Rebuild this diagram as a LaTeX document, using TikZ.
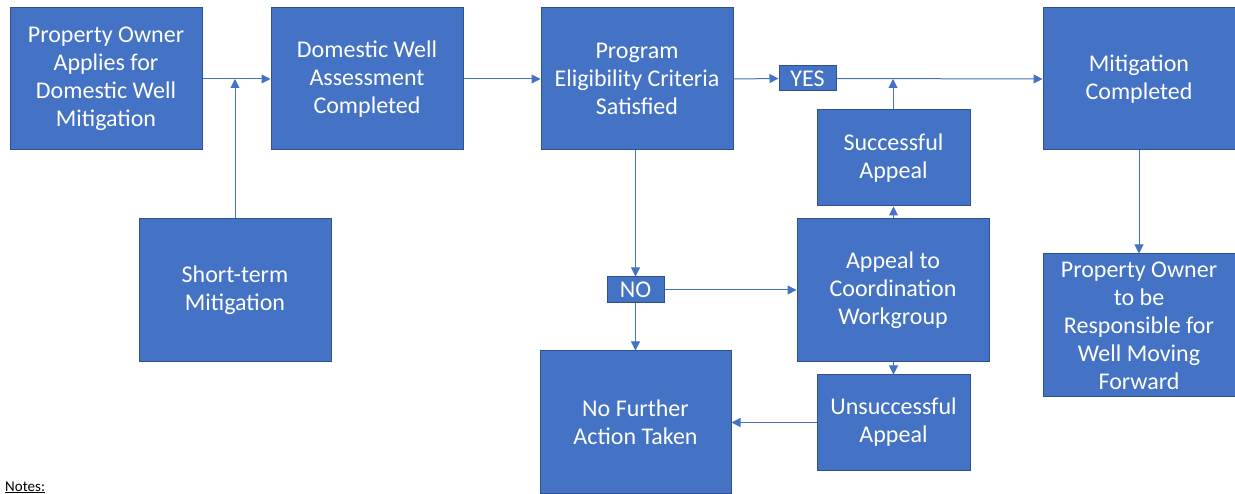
\documentclass[tikz,border=0pt]{standalone}
\usepackage{fontspec}
\setmainfont{Carlito}
\usetikzlibrary{arrows.meta}
\definecolor{boxfill}{HTML}{4472C4}
\definecolor{boxline}{HTML}{2F528F}
\definecolor{conn}{HTML}{4472C4}
\begin{document}
\begin{tikzpicture}[x=1pt,y=-1pt,
  bigbox/.style={draw=boxline,line width=1pt,fill=boxfill,text=white,align=center,
    inner sep=0pt,minimum width=192pt,minimum height=142pt,
    font=\fontsize{24}{28}\selectfont},
  midbox/.style={bigbox,minimum width=153pt,minimum height=96pt},
  tag/.style={draw=boxline,line width=1pt,fill=boxfill,text=white,inner sep=0pt,
    minimum width=57pt,minimum height=25pt,font=\fontsize{24}{24}\selectfont},
  link/.style={draw=conn,line width=1pt,-{Triangle[length=9pt,width=9pt]}},
  plain/.style={draw=conn,line width=1pt}]
\useasboundingbox (0,0) rectangle (1235,494);
\node[bigbox] (A) at (106,79) {Property Owner\\Applies for\\Domestic Well\\Mitigation};
\node[bigbox] (B) at (367,79) {Domestic Well\\Assessment\\Completed};
\node[bigbox] (C) at (637,79) {Program\\Eligibility Criteria\\Satisfied};
\node[bigbox] (D) at (1139,79) {Mitigation\\Completed};
\node[bigbox,minimum height=143pt] (E) at (235,290.5) {Short-term\\Mitigation};
\node[tag] (YES) at (807.5,78.5) {YES};
\node[midbox] (SA) at (893.5,158) {Successful\\Appeal};
\node[bigbox,minimum height=143pt] (AP) at (893,290.5) {Appeal to\\Coordination\\Workgroup};
\node[tag,minimum height=26pt] (NO) at (635.5,290) {NO};
\node[bigbox,minimum width=191pt] (NF) at (635.5,422) {No Further\\Action Taken};
\node[midbox,minimum height=95pt] (UA) at (893.5,422.5) {Unsuccessful\\Appeal};
\node[bigbox,minimum height=143pt] (PO) at (1139,325.5) {Property Owner\\to be\\Responsible for\\Well Moving\\Forward};
\node[anchor=base west,inner sep=0pt,font=\fontsize{15}{17}\selectfont] (notes) at (5,491) {\underline{Notes:}};
\coordinate (j1) at (235,79);
\coordinate (j2) at (893,79);
\draw[link] (A.east) -- (B.west);
\draw[link] (E.north) -- (j1);
\draw[link] (B.east) -- (C.west);
\draw[link] (C.east) -- (YES.west);
\draw[link] (YES.east) -- (D.west);
\draw[link] (SA.north -| j2) -- (j2);
\draw[link] (C.south -| NO.north) -- (NO.north);
\draw[link] (NO.east) -- (NO.east -| AP.west);
\draw[link] (NO.south) -- (NO.south |- NF.north);
\draw[link] (AP.north -| SA.north) -- (SA.south);
\draw[link] (AP.south -| UA.north) -- (UA.north);
\draw[link] (UA.west) -- (UA.west -| NF.east);
\draw[link] (D.south) -- (PO.north);
\end{tikzpicture}
\end{document}
